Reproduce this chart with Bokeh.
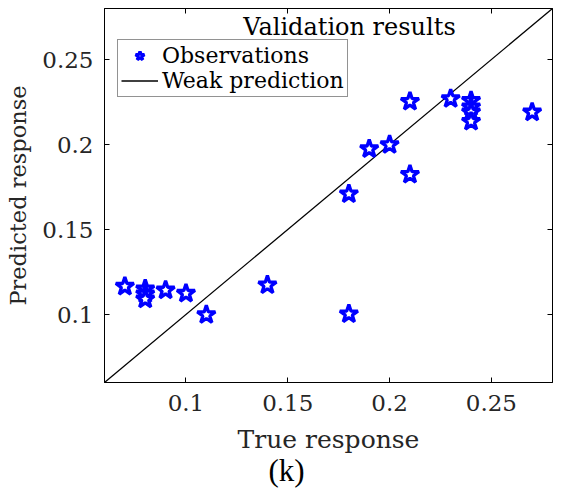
from bokeh.plotting import figure
from bokeh.models import Range1d, FixedTicker, LinearAxis, Legend, LegendItem, Label, Title
from bokeh.embed import file_html
from bokeh.resources import INLINE

true_resp = [0.07, 0.08, 0.08, 0.08, 0.09, 0.10, 0.11, 0.14, 0.18, 0.18,
             0.19, 0.20, 0.21, 0.21, 0.23, 0.24, 0.24, 0.24, 0.24, 0.27]
pred_resp = [0.1165, 0.115, 0.112, 0.109, 0.1143, 0.1124, 0.0998, 0.1173, 0.1709, 0.1003,
             0.1974, 0.1998, 0.2253, 0.1823, 0.2269, 0.2258, 0.222, 0.219, 0.2135, 0.219]
line_x = [0.06, 0.28]
line_y = [0.06, 0.28]
ticks = [0.1, 0.15, 0.2, 0.25]
tick_labels = ["0.1", "0.15", "0.2", "0.25"]

FONT = "DejaVu Serif"
TXT = "#262626"

p = figure(width=561, height=496, output_backend="svg", toolbar_location=None,
           x_range=Range1d(0.06, 0.28), y_range=Range1d(0.06, 0.28),
           min_border_left=104, min_border_right=9, min_border_top=8, min_border_bottom=114,
           x_axis_label="True response", y_axis_label="Predicted response")
p.grid.visible = False
p.outline_line_color = "black"
p.background_fill_color = "white"

overrides = {t: l for t, l in zip(ticks, tick_labels)}
for ax in [p.xaxis[0], p.yaxis[0]]:
    ax.ticker = FixedTicker(ticks=ticks)
    ax.major_label_overrides = overrides
    ax.major_tick_in = 5
    ax.major_tick_out = 0
    ax.minor_tick_line_color = None
    ax.axis_line_color = "black"
    ax.major_tick_line_color = "black"
    ax.major_label_text_font = FONT
    ax.major_label_text_font_size = "23px"
    ax.major_label_text_color = TXT
    ax.axis_label_text_font = FONT
    ax.axis_label_text_font_style = "normal"
    ax.axis_label_text_color = TXT
p.xaxis[0].major_label_standoff = 12
p.xaxis[0].axis_label_standoff = 11
p.xaxis[0].axis_label_text_font_size = "25px"
p.yaxis[0].major_label_standoff = 11
p.yaxis[0].axis_label_standoff = 8
p.yaxis[0].axis_label_text_font_size = "22.5px"

for side in ["above", "right"]:
    ax = LinearAxis(ticker=FixedTicker(ticks=ticks), major_label_text_font_size="0px",
                    major_label_standoff=0, major_tick_in=5, major_tick_out=0,
                    minor_tick_line_color=None, axis_line_color="black")
    p.add_layout(ax, side)

ln = p.line(line_x, line_y, line_color="black", line_width=1.3)
sc = p.scatter(true_resp, pred_resp, marker="star", size=19, line_color="blue",
               line_width=3.3, fill_color="white")

legend = Legend(items=[LegendItem(label="Observations", renderers=[sc]),
                       LegendItem(label="Weak prediction", renderers=[ln])],
                location=(13, 285), orientation="vertical")
legend.label_text_font = FONT
legend.label_text_font_size = "22px"
legend.label_text_color = "black"
legend.border_line_color = "#262626"
legend.border_line_width = 1
legend.padding = 3
legend.margin = 0
legend.spacing = 0
legend.glyph_width = 37
legend.glyph_height = 23
legend.label_height = 23
legend.label_standoff = 4
legend.background_fill_alpha = 1
p.add_layout(legend, "center")

p.add_layout(Label(x=245, y=356, x_units="screen", y_units="screen", text="Validation results",
                   text_align="center", text_baseline="alphabetic", text_font=FONT,
                   text_font_size="24px", text_color="black"))

sub = Title(text="(k)", align="left", offset=164, standoff=-12,
            text_font="Liberation Serif", text_font_size="31px",
            text_font_style="normal", text_color="black")
p.add_layout(sub, "below")

open("out.html", "w").write(file_html(p, INLINE))
